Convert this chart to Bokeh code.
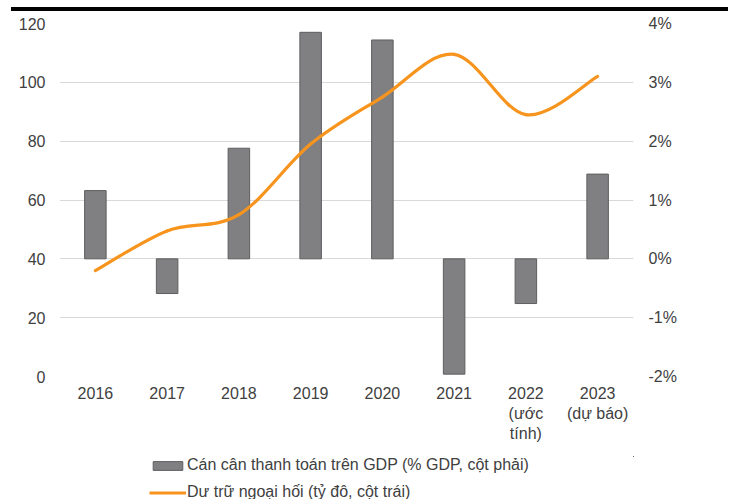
from bokeh.plotting import figure
from bokeh.layouts import column
from bokeh.models import (Range1d, LinearAxis, FixedTicker, PrintfTickFormatter,
                          Legend, LegendItem, Div)
from bokeh.embed import file_html
from bokeh.resources import INLINE

# ---- data ----
years = ["2016", "2017", "2018", "2019", "2020", "2021", "2022\n(ước\ntính)", "2023\n(dự báo)"]
bop_pct_gdp = [1.16, -0.59, 1.88, 3.85, 3.72, -1.96, -0.76, 1.44]     # right axis, % GDP
fx_reserves = [36, 49.5, 55, 79, 95, 109.5, 89, 102]                  # left axis, bn USD
left_ticks = [0, 20, 40, 60, 80, 100, 120]
right_ticks = [-2, -1, 0, 1, 2, 3, 4]
bar_label = "Cán cân thanh toán trên GDP (% GDP, cột phải)"
line_label = "Dư trữ ngoại hối (tỷ đô, cột trái)"

FONT = "Liberation Sans"
TXT = "#404040"
BAR_FILL = "#808083"
BAR_LINE = "#5e5e60"
LINE_COLOR = "#F7941D"

xs = list(range(1, len(years) + 1))

p = figure(width=735, height=445, output_backend="svg", toolbar_location=None,
           x_range=Range1d(0.5, len(years) + 0.5), y_range=Range1d(0, 120),
           min_border_left=59, min_border_right=102, min_border_top=12,
           min_border_bottom=80)
p.outline_line_color = None
p.background_fill_color = "white"
p.border_fill_color = "white"

p.extra_y_ranges = {"pct": Range1d(-2, 4)}

bars = p.vbar(x=xs, top=bop_pct_gdp, bottom=0, width=0.3, y_range_name="pct",
              fill_color=BAR_FILL, line_color=BAR_LINE, line_width=1)

n = len(xs)
def pt(i):
    i = max(0, min(n - 1, i))
    return xs[i], fx_reserves[i]
x0, y0, x1, y1, cx0, cy0, cx1, cy1 = ([] for _ in range(8))
for i in range(n - 1):
    xa, ya = pt(i); xb, yb = pt(i + 1); xp, yp = pt(i - 1); xn, yn = pt(i + 2)
    x0.append(xa); y0.append(ya); x1.append(xb); y1.append(yb)
    cx0.append(xa + (xb - xp) / 6); cy0.append(ya + (yb - yp) / 6)
    cx1.append(xb - (xn - xa) / 6); cy1.append(yb - (yn - ya) / 6)
line = p.bezier(x0=x0, y0=y0, x1=x1, y1=y1, cx0=cx0, cy0=cy0, cx1=cx1, cy1=cy1,
                line_color=LINE_COLOR, line_width=3.2, line_cap="round")

p.xgrid.visible = False
p.ygrid.grid_line_color = "#d9d9d9"
p.ygrid.ticker = FixedTicker(ticks=left_ticks)

for ax in [p.xaxis[0], p.yaxis[0]]:
    ax.axis_line_color = None
    ax.major_tick_line_color = None
    ax.minor_tick_line_color = None
    ax.major_tick_out = 0
    ax.major_tick_in = 0
    ax.minor_tick_out = 0
    ax.major_label_text_font = FONT
    ax.major_label_text_font_size = "16px"
    ax.major_label_text_color = TXT

p.yaxis[0].ticker = FixedTicker(ticks=left_ticks)
p.yaxis[0].major_label_standoff = 14

p.xaxis[0].ticker = FixedTicker(ticks=xs)
p.xaxis[0].major_label_overrides = {x: lab for x, lab in zip(xs, years)}
p.xaxis[0].major_label_standoff = 8

ra = LinearAxis(y_range_name="pct", ticker=FixedTicker(ticks=right_ticks),
                formatter=PrintfTickFormatter(format="%d%%"))
ra.axis_line_color = None
ra.major_tick_line_color = None
ra.minor_tick_line_color = None
ra.major_tick_out = 0
ra.major_tick_in = 0
ra.minor_tick_out = 0
ra.major_label_standoff = 15
ra.major_label_text_font = FONT
ra.major_label_text_font_size = "16px"
ra.major_label_text_color = TXT
p.add_layout(ra, "right")

# ---- legend strip (separate small figure below the chart) ----
# its ranges show none of the data, so only the legend itself is visible
lg = figure(width=735, height=45, output_backend="svg", toolbar_location=None,
            x_range=Range1d(-3, -2), y_range=Range1d(-5, -4),
            x_axis_location=None, y_axis_location=None,
            min_border_left=0, min_border_right=0, min_border_top=0, min_border_bottom=0)
lg.outline_line_color = None
lg.xgrid.visible = False
lg.ygrid.visible = False
lg_bar = lg.vbar(x=xs, top=bop_pct_gdp, bottom=0, width=0.3,
                 fill_color=BAR_FILL, line_color=BAR_LINE, line_width=1)
lg_line = lg.line(x=xs, y=fx_reserves, line_color=LINE_COLOR, line_width=3.2)

legend = Legend(items=[LegendItem(label=bar_label, renderers=[lg_bar]),
                       LegendItem(label=line_label, renderers=[lg_line])],
                location=(90, 0), orientation="vertical",
                background_fill_alpha=0, border_line_color=None,
                padding=0, margin=0, spacing=9,
                glyph_width=37, glyph_height=11, label_height=18, label_standoff=1,
                label_text_font=FONT, label_text_font_size="16px",
                label_text_color=TXT)
lg.add_layout(legend, "center")

rule = Div(text="", width=717, height=4, margin=(7, 0, 0, 11),
           styles={"background-color": "black"})

layout = column(rule, p, lg, spacing=0)
open("out.html", "w").write(file_html(layout, INLINE))
